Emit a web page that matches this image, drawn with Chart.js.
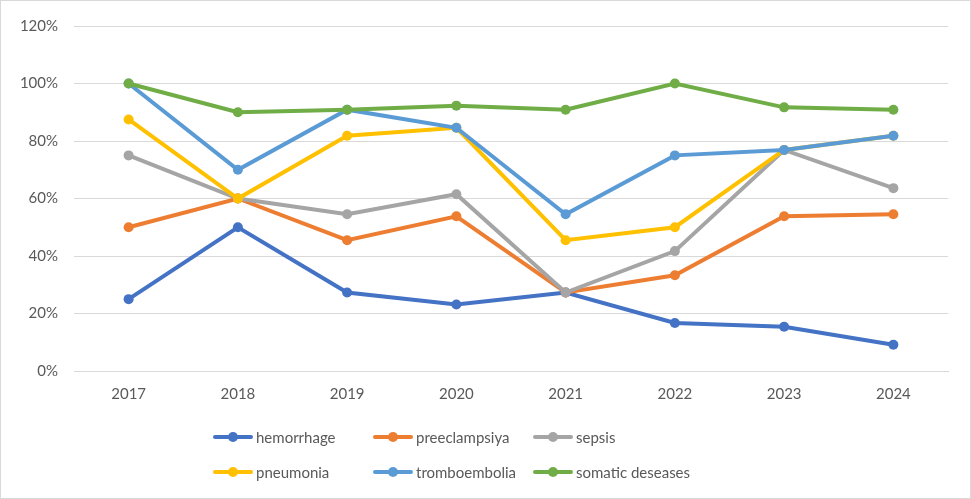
<!DOCTYPE html>
<html>
<head>
<meta charset="utf-8">
<script src="https://cdn.jsdelivr.net/npm/chart.js@4.4.1/dist/chart.umd.min.js"></script>
<style>
  html, body { margin: 0; padding: 0; background: #fff; }
  #wrap { position: relative; width: 971px; height: 499px; box-sizing: border-box; border: 1px solid #D9D9D9; font-family: Lato, sans-serif; }
  #chart { position: absolute; left: 0; top: 0; }
  #legend { position: absolute; left: 212px; top: 424px; display: grid; grid-template-columns: 160px 160px 200px; row-gap: 11px; }
  .item { display: flex; align-items: center; height: 24px; font-size: 15px; color: #595959; }
  .swatch { position: relative; width: 40px; height: 10px; margin-right: 3px; }
  .swatch .ln { position: absolute; left: 0; right: 0; top: 3px; height: 4px; border-radius: 2px; }
  .swatch .dt { position: absolute; left: 15px; top: 0; width: 10px; height: 10px; border-radius: 50%; }
</style>
</head>
<body>
<div id="wrap">
  <canvas id="chart" width="969" height="497"></canvas>
  <div id="legend"></div>
</div>
<script>
// years on the x axis
const years = ['2017', '2018', '2019', '2020', '2021', '2022', '2023', '2024'];

// shares in percent
const hemorrhage = [25, 50, 27.3, 23.1, 27.3, 16.7, 15.4, 9.1];
const preeclampsiya = [50, 60, 45.5, 53.8, 27.3, 33.3, 53.8, 54.5];
const sepsis = [75, 60, 54.5, 61.5, 27.3, 41.7, 76.9, 63.6];
const pneumonia = [87.5, 60, 81.8, 84.6, 45.5, 50, 76.9, 81.8];
const tromboembolia = [100, 70, 90.9, 84.6, 54.5, 75, 76.9, 81.8];
const somaticDeseases = [100, 90, 90.9, 92.3, 90.9, 100, 91.7, 90.9];

const seriesNames = ['hemorrhage', 'preeclampsiya', 'sepsis', 'pneumonia', 'tromboembolia', 'somatic deseases'];
const seriesData = [hemorrhage, preeclampsiya, sepsis, pneumonia, tromboembolia, somaticDeseases];
const seriesColors = ['#4472C4', '#ED7D31', '#A5A5A5', '#FFC000', '#5B9BD5', '#70AD47'];

const yTicks = [0, 20, 40, 60, 80, 100, 120];

// later series are painted on top, as in Excel
const datasets = seriesNames.map((name, i) => ({
  label: name,
  data: seriesData[i],
  order: seriesNames.length - 1 - i,
  borderColor: seriesColors[i],
  backgroundColor: seriesColors[i],
  borderWidth: 4,
  pointRadius: 5,
  pointHoverRadius: 5,
  pointBorderWidth: 0,
  tension: 0
}));

new Chart(document.getElementById('chart'), {
  type: 'line',
  data: { labels: years, datasets: datasets },
  options: {
    responsive: false,
    animation: false,
    layout: { padding: { top: 22, right: 22, left: 0, bottom: 0 } },
    plugins: { legend: { display: false }, tooltip: { enabled: false } },
    scales: {
      x: {
        offset: true,
        grid: { display: false, drawTicks: false },
        border: { color: '#D9D9D9', width: 1 },
        ticks: { color: '#595959', font: { family: 'Lato', size: 15 }, padding: 14 },
        afterFit: (scale) => { scale.height = 127; }
      },
      y: {
        min: 0,
        max: 120,
        afterBuildTicks: (scale) => { scale.ticks = yTicks.map(v => ({ value: v })); },
        grid: { color: '#D9D9D9', lineWidth: 1, drawTicks: false },
        border: { display: false },
        ticks: { color: '#595959', font: { family: 'Lato', size: 15 }, padding: 16, callback: v => v + '%' },
        afterFit: (scale) => { scale.width = 73; }
      }
    }
  }
});

// legend laid out in a grid like the original
const legend = document.getElementById('legend');
seriesNames.forEach((name, i) => {
  const item = document.createElement('div');
  item.className = 'item';
  item.innerHTML = '<span class="swatch"><span class="ln" style="background:' + seriesColors[i] + '"></span>' +
    '<span class="dt" style="background:' + seriesColors[i] + '"></span></span>' + name;
  legend.appendChild(item);
});
</script>
</body>
</html>
